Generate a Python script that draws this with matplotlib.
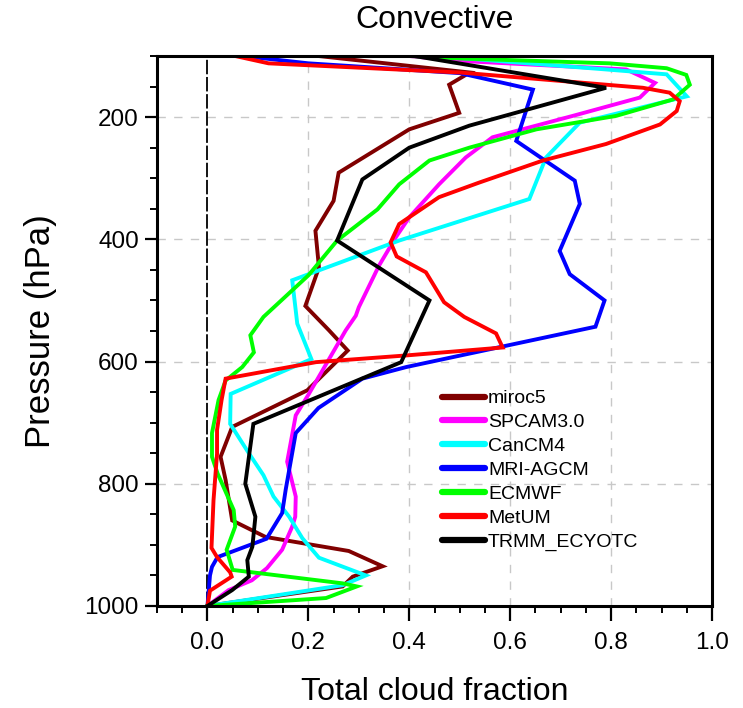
import matplotlib
matplotlib.use("Agg")
import matplotlib.pyplot as plt
from matplotlib.ticker import MultipleLocator, FixedLocator

plt.rcParams['font.family'] = ['Liberation Sans', 'DejaVu Sans']

# --- data: pressure (hPa) and cloud fraction along each profile ---
models = ["miroc5", "SPCAM3.0", "CanCM4", "MRI-AGCM", "ECMWF", "MetUM", "TRMM_ECYOTC"]
colors = ["#800000", "#ff00ff", "#00ffff", "#0000ff", "#00ff00", "#ff0000", "#000000"]

miroc5_p = [1000, 968, 952, 935, 910, 887, 860, 794, 756, 707, 647, 582, 549, 509, 446, 386, 337, 291, 220, 193, 147, 127, 100]
miroc5_f = [0.0, 0.268, 0.288, 0.347, 0.28, 0.115, 0.049, 0.036, 0.026, 0.049, 0.198, 0.278, 0.241, 0.194, 0.221, 0.214, 0.25, 0.26, 0.40, 0.499, 0.479, 0.52, 0.22]

spcam_p = [1000, 974, 958, 938, 908, 870, 854, 821, 764, 688, 653, 549, 525, 511, 443, 397, 364, 310, 266, 233, 198, 168, 144, 122, 108, 100]
spcam_f = [0.0, 0.042, 0.088, 0.118, 0.148, 0.168, 0.174, 0.175, 0.158, 0.175, 0.201, 0.274, 0.294, 0.30, 0.34, 0.373, 0.40, 0.459, 0.512, 0.565, 0.724, 0.857, 0.887, 0.83, 0.5, 0.40]

cancm4_p = [1000, 966, 950, 921, 889, 854, 821, 786, 750, 702, 653, 596, 538, 467, 402, 334, 266, 209, 166, 130, 122, 100]
cancm4_f = [0.0, 0.268, 0.314, 0.221, 0.188, 0.162, 0.131, 0.111, 0.082, 0.045, 0.046, 0.206, 0.178, 0.168, 0.38, 0.638, 0.671, 0.738, 0.95, 0.91, 0.79, 0.45]

mri_p = [1000, 950, 936, 920, 890, 848, 810, 717, 676, 628, 609, 543, 500, 457, 419, 342, 304, 239, 155, 128, 112, 100]
mri_f = [0.0, 0.005, 0.009, 0.02, 0.117, 0.148, 0.155, 0.175, 0.22, 0.307, 0.394, 0.769, 0.787, 0.718, 0.698, 0.738, 0.728, 0.612, 0.645, 0.50, 0.20, 0.07]

ecmwf_p = [1000, 987, 968, 963, 941, 908, 870, 843, 783, 756, 717, 663, 631, 609, 585, 557, 527, 459, 402, 351, 310, 271, 250, 220, 198, 171, 147, 131, 120, 112, 104, 100]
ecmwf_f = [0.0, 0.235, 0.296, 0.268, 0.05, 0.038, 0.055, 0.052, 0.02, 0.009, 0.009, 0.022, 0.036, 0.069, 0.092, 0.085, 0.111, 0.20, 0.257, 0.337, 0.38, 0.44, 0.519, 0.652, 0.81, 0.923, 0.956, 0.949, 0.91, 0.797, 0.50, 0.40]

metum_p = [1000, 975, 952, 945, 920, 905, 827, 751, 712, 663, 628, 601, 590, 577, 554, 527, 503, 454, 428, 405, 375, 331, 307, 271, 244, 212, 190, 174, 160, 152, 127, 112, 100]
metum_f = [0.0, 0.005, 0.048, 0.045, 0.019, 0.008, 0.012, 0.019, 0.019, 0.028, 0.036, 0.215, 0.394, 0.585, 0.572, 0.509, 0.469, 0.433, 0.375, 0.363, 0.38, 0.459, 0.539, 0.665, 0.79, 0.897, 0.93, 0.936, 0.916, 0.863, 0.5, 0.121, 0.055]

trmm_p = [1000, 974, 952, 925, 903, 854, 800, 702, 601, 500, 402, 302, 250, 214, 152, 100]
trmm_f = [0.0, 0.049, 0.082, 0.079, 0.089, 0.095, 0.075, 0.091, 0.384, 0.44, 0.257, 0.307, 0.40, 0.519, 0.79, 0.41]

profiles_p = [miroc5_p, spcam_p, cancm4_p, mri_p, ecmwf_p, metum_p, trmm_p]
profiles_f = [miroc5_f, spcam_f, cancm4_f, mri_f, ecmwf_f, metum_f, trmm_f]

fig = plt.figure(figsize=(7.43, 7.08), dpi=100)
ax = fig.add_axes([0.2113, 0.1441, 0.7470, 0.7768])

# grid and zero line
for xv in [0.2, 0.4, 0.6, 0.8]:
    ax.axvline(xv, color="#c8c8c8", lw=1.0, ls=(0, (6, 6)), zorder=0)
for yv in [200, 400, 600, 800]:
    ax.axhline(yv, color="#c8c8c8", lw=1.0, ls=(0, (6, 6)), zorder=0)
ax.axvline(0.0, color="black", lw=1.3, ls=(0, (8, 1.5)), zorder=1)

for name, col, p, f in zip(models, colors, profiles_p, profiles_f):
    ax.plot(f, p, color=col, lw=2.8, label=name, solid_joinstyle="miter", zorder=2)

ax.set_xlim(-0.1, 1.0)
ax.set_ylim(1000, 100)

ax.xaxis.set_major_locator(FixedLocator([0.0, 0.2, 0.4, 0.6, 0.8, 1.0]))
ax.xaxis.set_minor_locator(MultipleLocator(0.05))
ax.yaxis.set_major_locator(FixedLocator([200, 400, 600, 800, 1000]))
ax.yaxis.set_minor_locator(MultipleLocator(50))
ax.set_xticklabels(["0.0", "0.2", "0.4", "0.6", "0.8", "1.0"])

ax.tick_params(axis="both", which="major", direction="out", length=9, width=1.6, labelsize=17.5, pad=4)
ax.tick_params(axis="both", which="minor", direction="out", length=5, width=1.4)
ax.tick_params(top=False, right=False, which="both")
ax.tick_params(axis="x", which="major", length=11, pad=8)

for s in ax.spines.values():
    s.set_linewidth(2.2)

ax.set_xlabel("Total cloud fraction", fontsize=23, labelpad=16)
ax.set_ylabel("Pressure (hPa)", fontsize=25, labelpad=20)
ax.set_title("Convective", fontsize=23, pad=20)

ax.legend(loc="upper left", bbox_to_anchor=(0.514, 0.393), frameon=False,
          fontsize=14, handlelength=2.2, handletextpad=0.15, labelspacing=0.32,
          borderpad=0, borderaxespad=0)
for line in ax.get_legend().get_lines():
    line.set_linewidth(4.5)
    line.set_solid_capstyle("round")

fig.savefig("out.png", dpi=100)
